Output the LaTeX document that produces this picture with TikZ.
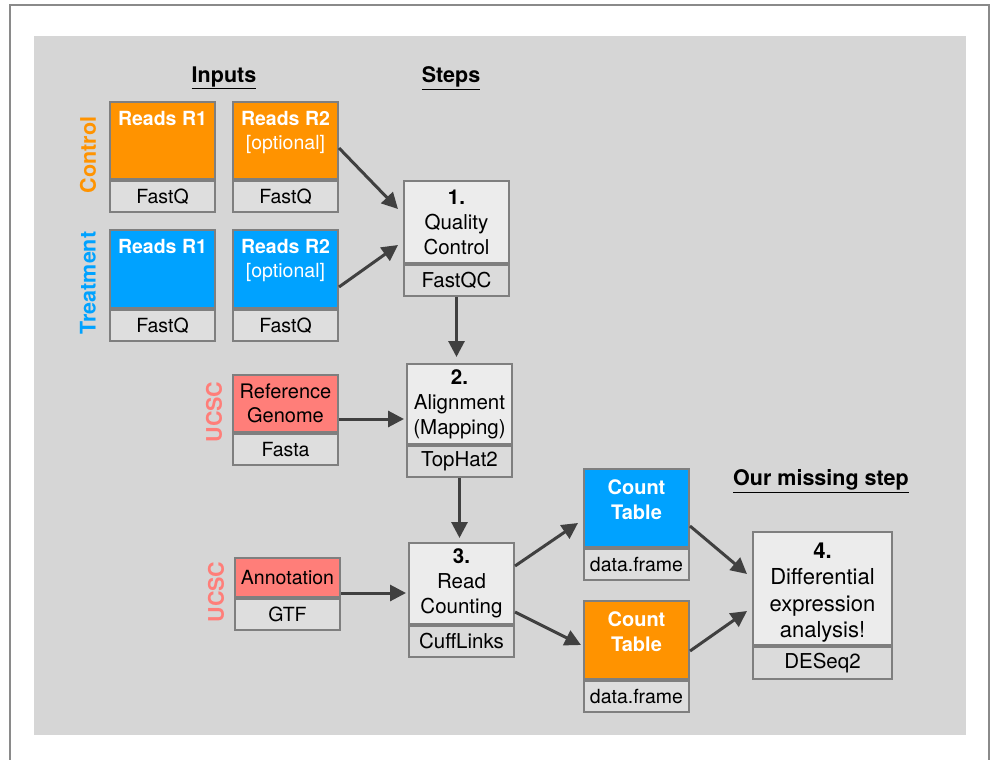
\documentclass[tikz,border=0pt]{standalone}
\usepackage{fontspec}
\setmainfont{TeX Gyre Heros}
\usetikzlibrary{arrows.meta,calc}
\definecolor{bggray}{HTML}{D6D6D6}
\definecolor{bordergray}{HTML}{7F7F7F}
\definecolor{outergray}{HTML}{8A8A8A}
\definecolor{inbot}{HTML}{DEDEDE}
\definecolor{steptop}{HTML}{ECECEC}
\definecolor{stepbot}{HTML}{DBDBDB}
\definecolor{cOrange}{HTML}{FF9300}
\definecolor{cBlue}{HTML}{00A2FF}
\definecolor{cSalmon}{HTML}{FF7E79}
\definecolor{arrowgray}{HTML}{404040}
\newcommand\fIn{\fontsize{19.5}{24}\selectfont}
\newcommand\fStep{\fontsize{20.5}{25}\selectfont}
\newcommand\fHead{\fontsize{21.5}{26}\selectfont\bfseries}
\begin{document}
\begin{tikzpicture}[x=1pt,y=-1pt,
  part/.style={draw=bordergray, line width=2pt, inner sep=0pt, anchor=north west, align=center},
  inpart/.style={part, minimum width=105pt, font=\fIn},
  steppart/.style={part, font=\fStep},
  intext/.style={anchor=north, inner sep=0pt, align=center, text=white, font=\fIn\bfseries},
  header/.style={font=\fHead, inner sep=0pt},
  sidelabel/.style={rotate=90, font=\fHead, inner sep=0pt},
  conn/.style={draw=arrowgray, line width=3pt, -{Triangle[length=16pt,width=16pt]}}
]
\useasboundingbox (0,0) rectangle (991,760);
\fill[white] (0,0) rectangle (991,760);
\draw[outergray, line width=2pt] (10,762) -- (10,5) -- (989,5) -- (989,762);
\fill[bggray] (34,36) rectangle (966,735);

% headers
\node[header] (hin) at (224,78) {\underline{Inputs}};
\node[header] (hst) at (451,78) {\underline{Steps}};
\node[header] (hmiss) at (821,481) {\underline{Our missing step}};
\node[sidelabel, text=cOrange] (lctl) at (88,155) {Control};
\node[sidelabel, text=cBlue] (ltrt) at (88,283) {Treatment};
\node[sidelabel, text=cSalmon] (lucsc1) at (214,412) {UCSC};
\node[sidelabel, text=cSalmon] (lucsc2) at (216,592) {UCSC};

% input boxes
\node[inpart, fill=cOrange, minimum height=77pt] (cr1t) at (109,101) {};
\node[inpart, fill=inbot, minimum height=31pt] (cr1b) at (cr1t.south west) {FastQ};
\node[intext] (cr1x) at ([yshift=-10pt]cr1t.north) {Reads R1};
\node[inpart, fill=cOrange, minimum height=77pt] (cr2t) at (232,101) {};
\node[inpart, fill=inbot, minimum height=31pt] (cr2b) at (cr2t.south west) {FastQ};
\node[intext] (cr2x) at ([yshift=-10pt]cr2t.north) {Reads R2\\{\mdseries[optional]}};

\node[inpart, fill=cBlue, minimum height=78pt] (tr1t) at (109,229) {};
\node[inpart, fill=inbot, minimum height=31pt] (tr1b) at (tr1t.south west) {FastQ};
\node[intext] (tr1x) at ([yshift=-10pt]tr1t.north) {Reads R1};
\node[inpart, fill=cBlue, minimum height=78pt] (tr2t) at (232,229) {};
\node[inpart, fill=inbot, minimum height=31pt] (tr2b) at (tr2t.south west) {FastQ};
\node[intext] (tr2x) at ([yshift=-10pt]tr2t.north) {Reads R2\\{\mdseries[optional]}};

\node[inpart, fill=cSalmon, minimum height=57pt, font=\fontsize{20}{24}\selectfont] (rgt) at (232,374) {Reference\\Genome};
\node[inpart, fill=inbot, minimum height=31pt] (rgb) at (rgt.south west) {Fasta};

\node[inpart, fill=cSalmon, minimum height=39pt] (ant) at (234,557) {Annotation};
\node[inpart, fill=inbot, minimum height=31pt] (anb) at (ant.south west) {GTF};

\node[inpart, fill=cBlue, minimum height=78pt] (ctbt) at (583,468) {};
\node[inpart, fill=inbot, minimum height=31pt] (ctbb) at (ctbt.south west) {data.frame};
\node[intext, font=\fontsize{20}{25}\selectfont\bfseries] (ctbx) at ([yshift=-11pt]ctbt.north) {Count\\Table};
\node[inpart, fill=cOrange, minimum height=78pt] (ctot) at (583,600) {};
\node[inpart, fill=inbot, minimum height=31pt] (ctob) at (ctot.south west) {data.frame};
\node[intext, font=\fontsize{20}{25}\selectfont\bfseries] (ctox) at ([yshift=-11pt]ctot.north) {Count\\Table};

% step boxes
\node[steppart, fill=steptop, minimum width=105pt, minimum height=82pt] (s1t) at (403,180) {\textbf{1.}\\Quality\\Control};
\node[steppart, fill=stepbot, minimum width=105pt, minimum height=31pt] (s1b) at (s1t.south west) {FastQC};
\node[steppart, fill=steptop, minimum width=105pt, minimum height=80pt] (s2t) at (406,363) {\textbf{2.}\\Alignment\\(Mapping)};
\node[steppart, fill=stepbot, minimum width=105pt, minimum height=31pt] (s2b) at (s2t.south west) {TopHat2};
\node[steppart, fill=steptop, minimum width=105pt, minimum height=81pt] (s3t) at (408,542) {\textbf{3.}\\Read\\Counting};
\node[steppart, fill=stepbot, minimum width=105pt, minimum height=31pt] (s3b) at (s3t.south west) {CuffLinks};
\node[steppart, fill=steptop, minimum width=139pt, minimum height=113pt] (s4t) at (752,531) {};
\node[steppart, fill=stepbot, minimum width=139pt, minimum height=32pt] (s4b) at (s4t.south west) {DESeq2};
\node[inner sep=0pt, align=center, font=\fontsize{22}{26.5}\selectfont] (s4x) at ([yshift=-4pt]s4t.center) {\textbf{4.}\\Differential\\expression\\analysis!};

% connectors
\coordinate (rgout) at ([yshift=-15.5pt]rgt.east);
\coordinate (anout) at ([yshift=-15.5pt]ant.east);
\draw[conn] ([yshift=-7.5pt]cr2t.east) -- ([xshift=-5pt,yshift=13pt]s1t.west);
\draw[conn] ([yshift=-18pt]tr2t.east) -- ([xshift=-5pt,yshift=-23pt]s1t.west);
\draw[conn, shorten >=6pt] (s1b.south) -- (s1b.south |- s2t.north);
\draw[conn, shorten >=2pt] (rgout) -- (rgout -| s2t.west);
\draw[conn, shorten >=4pt] (s2b.south) -- (s2b.south |- s3t.north);
\draw[conn, shorten >=2pt] (anout) -- (anout -| s3t.west);
\draw[conn] ([yshift=17.5pt]s3t.east) -- ([xshift=-5pt,yshift=-15pt]ctbt.west);
\draw[conn] ([yshift=-28.5pt]s3t.east) -- ([xshift=-2pt,yshift=-5pt]ctot.west);
\draw[conn] ([yshift=-18pt]ctbt.east) -- ([xshift=-5pt,yshift=14.5pt]s4t.west);
\draw[conn] ([yshift=-11pt]ctot.east) -- ([xshift=-5pt,yshift=-22.5pt]s4t.west);
\end{tikzpicture}
\end{document}
